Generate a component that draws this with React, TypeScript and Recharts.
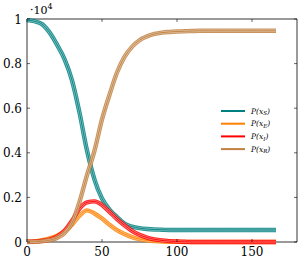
import { LineChart, Line, XAxis, YAxis, ReferenceArea, Legend } from "recharts";

// time (days) and the four compartments, in units of 10^4
const TIMES = [
  0, 5, 10, 15, 20, 25, 30, 35, 40, 45, 50, 55, 60, 65, 70, 75, 80, 85, 90, 95, 100, 105, 110, 115, 120,
  125, 130, 135, 140, 145, 150, 155, 160, 165, 166,
];
const S_VALUES = [
  0.995, 0.99, 0.977, 0.94, 0.885, 0.82, 0.725, 0.58, 0.41, 0.28, 0.195, 0.145, 0.112, 0.082, 0.069, 0.062,
  0.058, 0.056, 0.055, 0.054, 0.054, 0.054, 0.054, 0.054, 0.054, 0.054, 0.054, 0.054, 0.054, 0.054, 0.054,
  0.054, 0.054, 0.054, 0.054,
];
const E_VALUES = [
  0.001, 0.003, 0.008, 0.016, 0.028, 0.048, 0.078, 0.118, 0.142, 0.128, 0.105, 0.077, 0.053, 0.036, 0.022,
  0.013, 0.007, 0.004, 0.002, 0.001, 0.001, 0, 0, 0, 0, 0, 0, 0, 0, 0, 0, 0, 0, 0, 0,
];
const I_VALUES = [
  0.001, 0.002, 0.005, 0.011, 0.024, 0.05, 0.095, 0.15, 0.178, 0.182, 0.166, 0.135, 0.103, 0.075, 0.05,
  0.032, 0.02, 0.012, 0.007, 0.004, 0.002, 0.001, 0, 0, 0, 0, 0, 0, 0, 0, 0, 0, 0, 0, 0,
];
const R_VALUES = [
  0, 0.001, 0.003, 0.008, 0.018, 0.04, 0.085, 0.18, 0.3, 0.41, 0.55, 0.66, 0.76, 0.83, 0.875, 0.905, 0.922,
  0.933, 0.939, 0.942, 0.944, 0.945, 0.946, 0.947, 0.947, 0.947, 0.947, 0.947, 0.947, 0.947, 0.947, 0.947,
  0.947, 0.947, 0.947,
];
const X_TICKS = [0, 50, 100, 150];
const Y_TICKS = [0, 0.2, 0.4, 0.6, 0.8, 1];

const SERIES = [
  { key: "S", color: "#008080", values: S_VALUES },
  { key: "E", color: "#ff8000", values: E_VALUES },
  { key: "I", color: "#ff0000", values: I_VALUES },
  { key: "R", color: "#bf8040", values: R_VALUES },
];

const W = 298;
const H = 261;
const LEFT = 27;
const TOP = 19;
const BOTTOM = 19;
const PLOT_W = W - LEFT - 1;
const PLOT_H = H - TOP - BOTTOM;
const FONT = "DejaVu Serif";

const rows = TIMES.map((t, i) => {
  const row: Record<string, number> = { t };
  SERIES.forEach((s) => (row[s.key] = s.values[i]));
  return row;
});

const fmtY = (v: number) => (v === 0 || v === 1 ? String(v) : v.toFixed(1));

function XTick(props: any) {
  const { x, y, payload } = props;
  return (
    <g>
      <line x1={x} y1={y} x2={x} y2={y - 3} stroke="#000" strokeWidth={0.6} />
      <line x1={x} y1={y - PLOT_H} x2={x} y2={y - PLOT_H + 3} stroke="#000" strokeWidth={0.6} />
      <text x={x} y={y + 14} textAnchor="middle" fontFamily={FONT} fontSize={12} fill="#000">
        {payload.value}
      </text>
    </g>
  );
}

function YTick(props: any) {
  const { x, y, payload } = props;
  return (
    <g>
      <line x1={x} y1={y} x2={x + 3} y2={y} stroke="#000" strokeWidth={0.6} />
      <line x1={x + PLOT_W} y1={y} x2={x + PLOT_W - 3} y2={y} stroke="#000" strokeWidth={0.6} />
      <text x={x - 5} y={y + 4.5} textAnchor="end" fontFamily={FONT} fontSize={12} fill="#000">
        {fmtY(payload.value)}
      </text>
    </g>
  );
}

function BandLegend() {
  return (
    <svg width={80} height={52}>
      {SERIES.map((s, i) => {
        const cy = 7 + i * 12.7;
        return (
          <g key={s.key}>
            <line x1={3} y1={cy} x2={27} y2={cy} stroke={s.color} strokeWidth={2} />
            <text x={33} y={cy + 2.5} fontFamily={FONT} fontStyle="italic" fontSize={7.5} fill="#000">
              P(x
              <tspan fontSize={5.5} dy={1.8}>
                {s.key}
              </tspan>
              <tspan dy={-1.8}>)</tspan>
            </text>
          </g>
        );
      })}
    </svg>
  );
}

export default function App() {
  return (
    <div style={{ position: "absolute", left: 0, top: 0, width: W, height: H, background: "#fff" }}>
      <LineChart width={W} height={H} data={rows} margin={{ top: TOP, right: 1, bottom: 0, left: 0 }}>
        <XAxis
          dataKey="t"
          type="number"
          domain={[0, 180]}
          ticks={X_TICKS}
          height={BOTTOM}
          axisLine={false}
          tickLine={false}
          tickSize={0}
          tickMargin={0}
          tick={<XTick />}
          interval={0}
        />
        <YAxis
          type="number"
          domain={[0, 1]}
          ticks={Y_TICKS}
          width={LEFT}
          axisLine={false}
          tickLine={false}
          tickSize={0}
          tickMargin={0}
          tick={<YTick />}
          interval={0}
        />
        <ReferenceArea x1={0} x2={180} y1={0} y2={1} fill="none" stroke="#000" strokeWidth={0.8} />
        {SERIES.flatMap((s) => [
          <Line
            key={s.key + "-band"}
            type="monotone"
            dataKey={s.key}
            stroke={s.color}
            strokeWidth={4.4}
            strokeOpacity={0.85}
            dot={false}
            activeDot={false}
            legendType="none"
            isAnimationActive={false}
          />,
          <Line
            key={s.key + "-inner"}
            type="monotone"
            dataKey={s.key}
            stroke="#fff"
            strokeWidth={2.4}
            strokeOpacity={0.4}
            dot={false}
            activeDot={false}
            legendType="none"
            isAnimationActive={false}
          />,
          <Line
            key={s.key + "-mid"}
            type="monotone"
            dataKey={s.key}
            stroke={s.color}
            strokeWidth={0.9}
            dot={false}
            activeDot={false}
            legendType="none"
            isAnimationActive={false}
          />,
        ])}
        <Legend
          layout="vertical"
          align="center"
          verticalAlign="middle"
          content={<BandLegend />}
          wrapperStyle={{ position: "absolute", left: 218, top: 104, width: 80, height: 52 }}
        />
        <text x={30} y={14} fontFamily={FONT} fontSize={11} fill="#000">
          ·10
          <tspan fontSize={8} dy={-5}>
            4
          </tspan>
        </text>
      </LineChart>
    </div>
  );
}
